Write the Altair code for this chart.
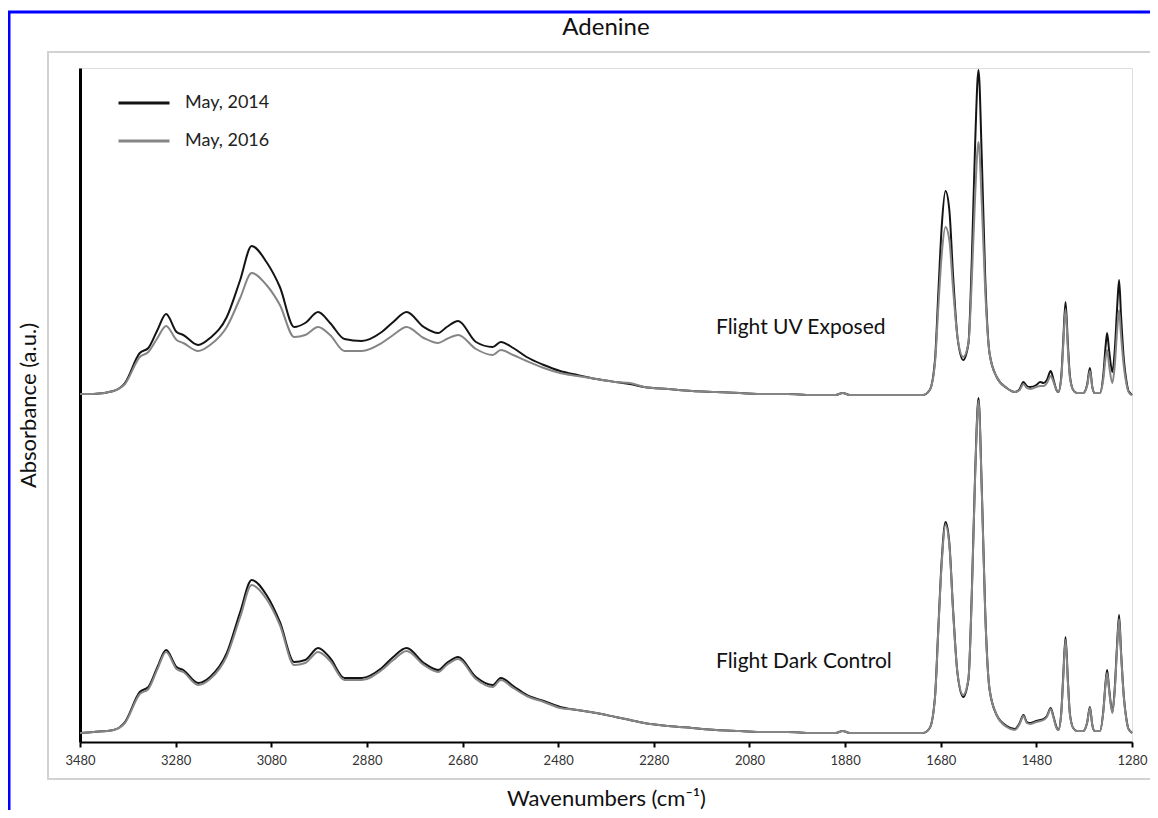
import altair as alt
import pandas as pd

# ---------------- data ----------------
WAVENUMBERS = [
    3480, 3452, 3410, 3386, 3355, 3337, 3318, 3300, 3278, 3264, 3233, 3208, 3173, 3145, 3121,
    3090, 3062, 3032, 3009, 2982, 2957, 2927, 2891, 2849, 2825, 2797, 2761, 2731, 2713, 2689,
    2652, 2617, 2600, 2574, 2546, 2510, 2476, 2440, 2400, 2360, 2330, 2300, 2250, 2200, 2150,
    2100, 2050, 2000, 1950, 1900, 1885, 1870, 1800, 1740,
    1717, 1703, 1692, 1685, 1678, 1670, 1662, 1654, 1645, 1633, 1622, 1615, 1608, 1601, 1594,
    1587, 1578, 1563, 1542, 1525, 1515, 1507, 1500, 1493, 1480, 1472, 1465, 1458, 1450, 1444,
    1438, 1434, 1428, 1424, 1419, 1414, 1410, 1403, 1395, 1382, 1374, 1368, 1363, 1358, 1347,
    1340, 1335, 1332, 1328, 1321, 1316, 1311, 1307, 1303, 1297, 1292, 1288, 1284, 1280,
]

# absorbance above each spectrum's own baseline, in hundredths of a.u.
UV_2014 = [
    1, 1, 4, 12, 42, 47, 65, 81, 63, 60, 50, 57, 78, 115, 149,
    133, 108, 68, 72, 83, 72, 56, 54, 63, 73, 83, 68, 62, 68, 74,
    53, 48, 53, 47, 38, 30, 24, 20, 16, 13, 11, 8, 6, 4, 3,
    2, 1, 1, 0, 0, 2, 0, 0, 0,
    0, 5, 35, 102, 168, 204, 185, 118, 58, 35, 52, 135, 252, 325, 235,
    118, 42, 18, 7, 3, 6, 13, 9, 8, 10, 13, 12, 15, 24, 15,
    5, 3, 18, 52, 93, 50, 20, 5, 2, 2, 10, 27, 8, 2, 2,
    20, 50, 62, 45, 23, 45, 88, 115, 80, 35, 15, 5, 2, 0,
]
UV_2016 = [
    1, 1, 4, 11, 38, 43, 57, 69, 55, 52, 44, 50, 68, 97, 122,
    110, 90, 58, 60, 68, 60, 44, 44, 52, 60, 68, 57, 52, 56, 60,
    46, 40, 45, 40, 34, 27, 22, 19, 16, 13, 12, 8, 6, 4, 3,
    2, 1, 1, 0, 0, 2, 0, 0, 0,
    0, 5, 32, 88, 140, 168, 155, 105, 58, 38, 52, 115, 200, 253, 190,
    105, 42, 18, 7, 3, 5, 11, 7, 6, 8, 9, 9, 12, 19, 13,
    5, 3, 16, 48, 86, 45, 18, 5, 2, 2, 9, 24, 8, 2, 2,
    16, 38, 45, 30, 12, 30, 65, 85, 60, 28, 12, 4, 1, 0,
]
DARK_2014 = [
    0, 1, 3, 11, 41, 46, 66, 83, 66, 63, 50, 56, 80, 121, 153,
    138, 111, 71, 73, 85, 75, 55, 55, 65, 76, 85, 70, 63, 70, 76,
    56, 48, 55, 47, 38, 32, 26, 23, 20, 16, 13, 10, 7, 5, 3,
    2, 1, 1, 0, 0, 2, 0, 0, 0,
    0, 5, 36, 105, 172, 211, 190, 122, 60, 36, 54, 140, 260, 335, 242,
    122, 44, 18, 7, 4, 10, 18, 11, 10, 12, 13, 14, 17, 25, 16,
    6, 3, 20, 55, 96, 52, 20, 5, 2, 2, 10, 26, 8, 2, 2,
    22, 52, 63, 45, 21, 45, 90, 118, 82, 36, 15, 5, 2, 0,
]
DARK_2016 = [
    0, 1, 3, 10, 39, 44, 64, 81, 64, 61, 48, 54, 77, 116, 148,
    134, 108, 68, 70, 81, 72, 53, 53, 63, 73, 82, 68, 61, 68, 74,
    54, 46, 53, 45, 37, 31, 25, 23, 20, 16, 13, 10, 7, 5, 3,
    2, 1, 1, 0, 0, 2, 0, 0, 0,
    0, 5, 35, 103, 169, 208, 188, 120, 60, 38, 54, 138, 257, 332, 240,
    120, 44, 18, 6, 3, 9, 17, 10, 9, 11, 12, 13, 16, 24, 15,
    5, 3, 19, 53, 93, 50, 19, 5, 2, 2, 10, 25, 8, 2, 2,
    21, 50, 60, 43, 20, 43, 87, 114, 80, 35, 14, 5, 2, 0,
]

SERIES = ["May, 2014", "May, 2016"]
SERIES_COLORS = ["#141414", "#858585"]
PANELS = ["Flight UV Exposed", "Flight Dark Control"]
PANEL_BASELINE = [3.47, 0.09]          # vertical offset of each stacked spectrum (a.u.)
LABEL_WAVENUMBER = 2150                # where the panel captions start
LABEL_LIFT = [0.67, 0.71]              # caption height above each baseline (a.u.)
X_TICKS = [3480, 3280, 3080, 2880, 2680, 2480, 2280, 2080, 1880, 1680, 1480, 1280]
TITLE = "Adenine"

# ---------------- tidy table ----------------
rows = []
spectra = {
    ("May, 2014", "Flight UV Exposed"): UV_2014,
    ("May, 2014", "Flight Dark Control"): DARK_2014,
    ("May, 2016", "Flight UV Exposed"): UV_2016,
    ("May, 2016", "Flight Dark Control"): DARK_2016,
}
for (series, panel), vals in spectra.items():
    base = PANEL_BASELINE[PANELS.index(panel)]
    for w, v in zip(WAVENUMBERS, vals):
        rows.append({"wavenumber": w, "absorbance": base + v / 100.0,
                     "series": series, "panel": panel})
df = pd.DataFrame(rows)

labels_df = pd.DataFrame({
    "panel": PANELS,
    "wavenumber": [LABEL_WAVENUMBER] * 2,
    "absorbance": [b + l for b, l in zip(PANEL_BASELINE, LABEL_LIFT)],
})

W, H = 1052, 674
PAD_L, PAD_T, PAD_R, PAD_B = 72, 60, 18, 68
RIGHT_EDGE = W + PAD_R                 # right edge of the drawing, relative to the plot origin
x_scale = alt.Scale(domain=[1280, 3480], reverse=True, nice=False, zero=False)
y_scale = alt.Scale(domain=[0, 6.74], nice=False, zero=False)

one = pd.DataFrame({"k": [1]})
title_df = pd.DataFrame({"t": [TITLE]})

# decorative figure borders (blue outer box, light-gray chart-area box), only the visible edges
blue_top = alt.Chart(one).mark_rule(color="#0000ff", strokeWidth=3).encode(
    x=alt.value(-72), x2=alt.value(RIGHT_EDGE), y=alt.value(-56))
blue_left = alt.Chart(one).mark_rule(color="#0000ff", strokeWidth=3).encode(
    x=alt.value(-71), y=alt.value(-57), y2=alt.value(H + PAD_B))
gray_top = alt.Chart(one).mark_rule(color="#d2d2d2", strokeWidth=2).encode(
    x=alt.value(-33), x2=alt.value(RIGHT_EDGE), y=alt.value(-16))
gray_left = alt.Chart(one).mark_rule(color="#d2d2d2", strokeWidth=2).encode(
    x=alt.value(-32), y=alt.value(-17), y2=alt.value(712))
gray_bottom = alt.Chart(one).mark_rule(color="#d2d2d2", strokeWidth=2).encode(
    x=alt.value(-33), x2=alt.value(RIGHT_EDGE), y=alt.value(711))

lines = alt.Chart(df).mark_line(strokeWidth=2, interpolate="monotone").encode(
    x=alt.X("wavenumber:Q", scale=x_scale,
            axis=alt.Axis(values=X_TICKS, format="d", title="Wavenumbers (cm⁻¹)",
                          grid=False, domainColor="#000", domainWidth=2,
                          tickColor="#000", tickWidth=2, tickSize=5,
                          labelFontSize=13, labelColor="#333", labelPadding=7,
                          labelFont="Lato", labelFlush=False,
                          titleFontSize=22, titleFontWeight="normal", titleFont="Lato",
                          titleColor="#111", titleX=W / 2, titleY=56,
                          titleAlign="center", titleBaseline="middle")),
    y=alt.Y("absorbance:Q", scale=y_scale,
            axis=alt.Axis(title="Absorbance (a.u.)", labels=False, ticks=False, grid=False,
                          domainColor="#000", domainWidth=3,
                          titleFontSize=22, titleFontWeight="normal", titleFont="Lato",
                          titleColor="#111", titleX=-52, titleY=H / 2, titleAngle=270,
                          titleAlign="center", titleBaseline="middle")),
    color=alt.Color("series:N",
                    scale=alt.Scale(domain=SERIES, range=SERIES_COLORS),
                    legend=alt.Legend(orient="none", legendX=37, legendY=25, title=None,
                                      symbolType="stroke", symbolSize=2601,
                                      symbolStrokeWidth=3, clipHeight=20, rowPadding=18,
                                      labelFontSize=18, labelFont="Lato", labelColor="#222",
                                      labelOffset=14, padding=0)),
    detail="panel:N",
)

captions = alt.Chart(labels_df).mark_text(
    align="left", baseline="middle", fontSize=21, font="Lato", color="#111"
).encode(
    x=alt.X("wavenumber:Q", scale=x_scale),
    y=alt.Y("absorbance:Q", scale=y_scale),
    text="panel:N",
)

title_mark = alt.Chart(title_df).mark_text(
    align="center", baseline="middle", fontSize=24, font="Lato", color="#111"
).encode(x=alt.value(W / 2), y=alt.value(-40), text="t:N")

chart = alt.layer(blue_top, blue_left, gray_top, gray_left, gray_bottom,
                  lines, captions, title_mark).properties(
    width=W, height=H,
    autosize=alt.AutoSizeParams(type="none"),
    padding={"left": PAD_L, "top": PAD_T, "right": PAD_R, "bottom": PAD_B},
).configure_view(stroke=None).configure(font="Lato", background="white")

chart.save("out.html", embed_options={"renderer": "svg", "actions": False})
